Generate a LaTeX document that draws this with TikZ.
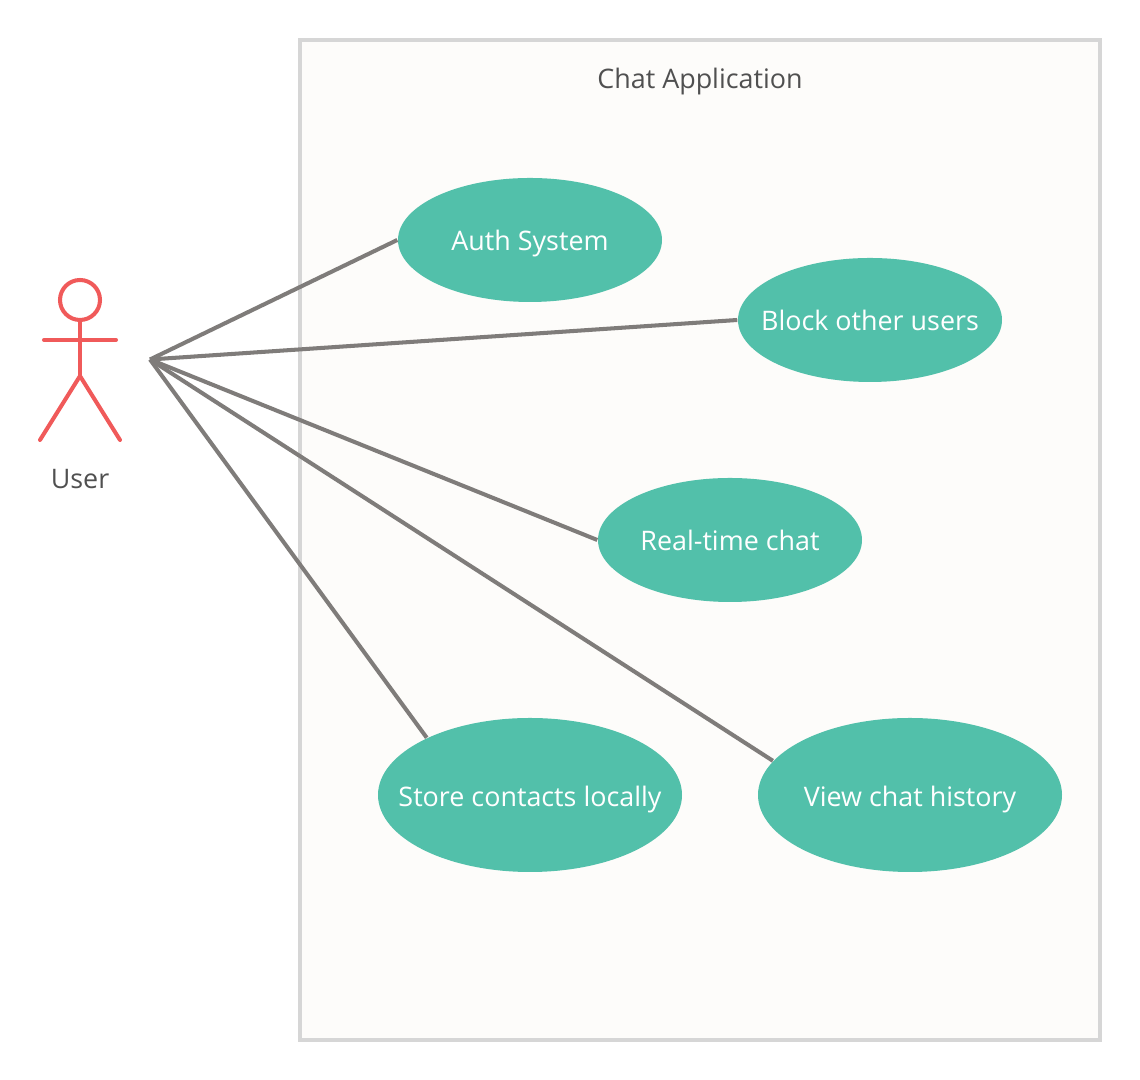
\documentclass[tikz,border=0pt]{standalone}
\usepackage{fontspec}
\setmainfont{Open Sans}
\usetikzlibrary{shapes.geometric}

\definecolor{casoverde}{HTML}{52C0AA}
\definecolor{actorrojo}{HTML}{F05A5A}
\definecolor{lineagris}{HTML}{7F7C7A}
\definecolor{bordegris}{HTML}{D6D6D6}
\definecolor{fondocaja}{HTML}{FDFCFA}
\definecolor{textogris}{HTML}{505050}

\newcommand{\rotulo}[2][0.096cm]{\makebox[0pt]{\smash{\raisebox{-#1}{#2}}}}

\tikzset{
    caso/.style={ellipse, fill=casoverde, text=white, inner sep=0pt, font=\fontsize{7.65}{10}\selectfont},
    etiqueta/.style={text=textogris, inner sep=0pt, font=\fontsize{7.65}{10}\selectfont},
    actor/.style={draw=actorrojo, line width=1.15pt, line cap=round},
    enlace/.style={draw=lineagris, line width=1.15pt}
}

\begin{document}
\begin{tikzpicture}
    \useasboundingbox (0,0) rectangle (11.4,10.8);

    % Sistema
    \node[draw=bordegris, fill=fondocaja, line width=1.15pt, minimum width=8cm, minimum height=10cm, inner sep=0pt] (sistema) at (7,5.4) {};
    \node[etiqueta] (titulo) at (7,10.01) {\rotulo{Chat Application}};

    % Actor
    \node[circle, actor, minimum size=0.4cm, inner sep=0pt] (cabeza) at (0.8,7.8) {};
    \coordinate (cadera) at (0.8,7.04);
    \coordinate (brazoi) at (0.44,7.4);
    \coordinate (brazod) at (1.16,7.4);
    \coordinate (piei) at (0.4,6.4);
    \coordinate (pied) at (1.2,6.4);
    \draw[actor] (cabeza) -- (cadera);
    \draw[actor] (brazoi) -- (brazod);
    \draw[actor] (piei) -- (cadera) -- (pied);
    \node[etiqueta] (usuario) at (0.8,6.01) {\rotulo{User}};

    % Casos de uso
    \node[caso, minimum width=2.64cm, minimum height=1.24cm] (auth) at (5.3,8.4) {\rotulo[0.106cm]{Auth System}};
    \node[caso, minimum width=2.64cm, minimum height=1.24cm] (bloqueo) at (8.7,7.6) {\rotulo[0.106cm]{Block other users}};
    \node[caso, minimum width=2.64cm, minimum height=1.24cm] (tiemporeal) at (7.3,5.4) {\rotulo[0.106cm]{Real-time chat}};
    \node[caso, minimum width=3.04cm, minimum height=1.54cm] (contactos) at (5.3,2.85) {\rotulo[0.116cm]{Store contacts locally}};
    \node[caso, minimum width=3.04cm, minimum height=1.54cm] (historial) at (9.1,2.85) {\rotulo[0.116cm]{View chat history}};

    % Enlaces
    \coordinate (origen) at (1.5,7.205);
    \draw[enlace] (origen) -- (auth.west);
    \draw[enlace] (origen) -- (bloqueo.west);
    \draw[enlace] (origen) -- (tiemporeal.west);
    \draw[enlace] (origen) -- (contactos.151.7);
    \draw[enlace] (origen) -- (historial.166.7);
\end{tikzpicture}
\end{document}
